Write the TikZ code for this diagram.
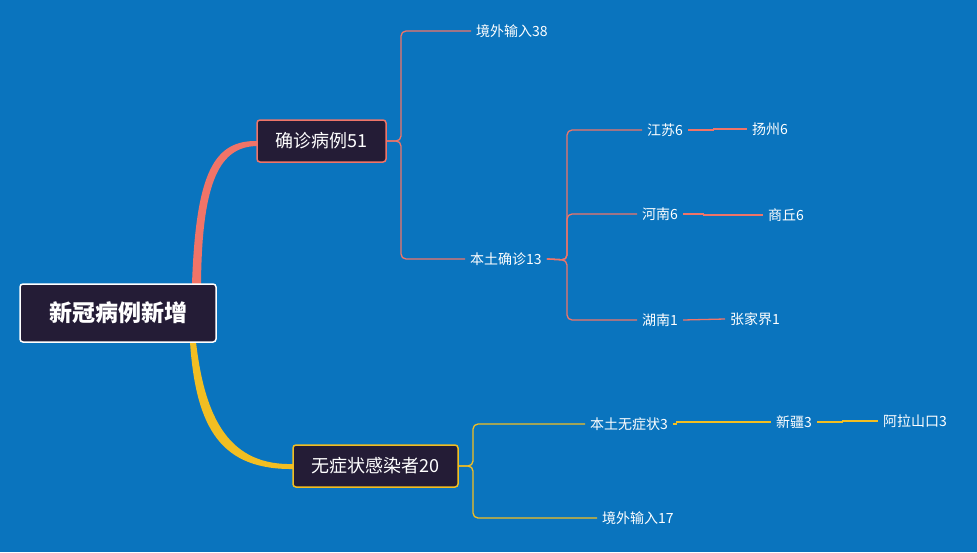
\documentclass[tikz,border=0pt]{standalone}
\usepackage{fontspec}
\setmainfont{Noto Sans CJK SC}
\definecolor{bgblue}{HTML}{0A74BE}
\definecolor{boxdark}{HTML}{241C36}
\definecolor{redline}{HTML}{F07468}
\definecolor{yelline}{HTML}{F2BE22}
\tikzset{
  rootbox/.style={draw=white, line width=1.5pt, fill=boxdark, rounded corners=3pt,
    text=white, font=\fontsize{23}{26}\selectfont\bfseries, minimum width=196, minimum height=58},
  mainbox/.style={fill=boxdark, rounded corners=3pt, line width=1.5pt, text=white,
    font=\fontsize{18}{21}\selectfont, minimum height=42, inner xsep=2},
  leaf/.style={text=white, font=\fontsize{14}{16}\selectfont, inner xsep=5pt, inner ysep=1pt, anchor=west},
  redlink/.style={draw=redline, line width=1.3pt, rounded corners=5pt},
  yellink/.style={draw=yelline, line width=1.3pt, rounded corners=5pt}
}
\begin{document}
\begin{tikzpicture}[x=1pt,y=-1pt]
  \fill[bgblue] (0,0) rectangle (977,552);
  \useasboundingbox (0,0) rectangle (977,552);

  % main branches
  \fill[redline] (192,284) .. controls (196,170) and (215,140) .. (258,141)
    -- (258,146) .. controls (220,146) and (202,180) .. (201,284) -- cycle;
  \fill[yelline] (196,342) .. controls (205,420) and (230,466) .. (294,464)
    -- (294,469) .. controls (222,470) and (196,430) .. (190,342) -- cycle;

  \node[rootbox] (root) at (118,313) {新冠病例新增};
  \node[mainbox, draw=redline, minimum width=129] (confirmed) at (321.5,141) {确诊病例51};
  \node[mainbox, draw=yelline, minimum width=165] (asym) at (375.5,466) {无症状感染者20};

  % confirmed cases
  \node[leaf] (imported) at (471,31) {境外输入38};
  \node[leaf] (local) at (465,259) {本土确诊13};
  \node[leaf] (jiangsu) at (642,130) {江苏6};
  \node[leaf] (henan) at (637,214) {河南6};
  \node[leaf] (hunan) at (637,320) {湖南1};
  \node[leaf] (yangzhou) at (747,129) {扬州6};
  \node[leaf] (shangqiu) at (763,215) {商丘6};
  \node[leaf] (zjj) at (725,319) {张家界1};

  \draw[redlink] (confirmed.east) -- (401,141) |- (imported.west);
  \draw[redlink] (confirmed.east) -- (401,141) |- (local.west);
  \draw[redlink] (local.east) -- (567,260) |- (jiangsu.west);
  \draw[redlink] (local.east) -- (567,260) |- (henan.west);
  \draw[redlink] (local.east) -- (567,260) |- (hunan.west);
  \draw[redlink, rounded corners=0pt] (jiangsu.east) -- ++(25,0) -- ++(0,-1) -- (yangzhou.west);
  \draw[redlink, rounded corners=0pt] (henan.east) -- ++(20,0) -- ++(0,1) -- (shangqiu.west);
  \draw[redlink] (hunan.east) -- (zjj.west);

  % asymptomatic
  \node[leaf] (localasym) at (585,424) {本土无症状3};
  \node[leaf] (importasym) at (597,518) {境外输入17};
  \node[leaf] (xinjiang) at (771,422) {新疆3};
  \node[leaf] (alashan) at (878,421) {阿拉山口3};

  \draw[yellink] (asym.east) -- (473,466) |- (localasym.west);
  \draw[yellink] (asym.east) -- (473,466) |- (importasym.west);
  \draw[yellink, rounded corners=0pt] (localasym.east) -- ++(3,0) -- ++(0,-2) -- (xinjiang.west);
  \draw[yellink, rounded corners=0pt] (xinjiang.east) -- ++(25,0) -- ++(0,-1) -- (alashan.west);
\end{tikzpicture}
\end{document}
